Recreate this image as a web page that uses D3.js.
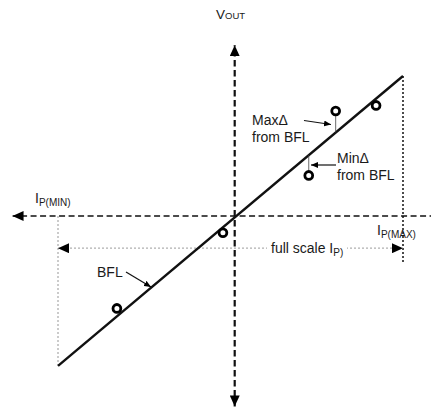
<!DOCTYPE html>
<html>
<head>
<meta charset="utf-8">
<script src="https://cdn.jsdelivr.net/npm/d3@7"></script>
<style>
  body { margin: 0; background: #fff; }
  svg text { font-family: "Liberation Sans", Arial, sans-serif; fill: #1a1a1a; }
</style>
</head>
<body>
<script>
// data (abstract units: I_P on x, V_OUT on y)
const ipMin = -1.05, ipMax = 1;
const bfl = [[-1.05, -1.07], [1, 1]];           // best fit line end points
const samples = [[-0.70, -0.66], [-0.07, -0.12], [0.44, 0.29], [0.60, 0.75], [0.84, 0.79]];
const axisX = [-1.32, 1.25];                    // horizontal axis extent
const axisY = [-1.36, 1.22];                    // vertical axis extent
const fullScaleY = -0.23;
const dropMax = -0.33;

const width = 431, height = 410;

const svg = d3.select("body").append("svg")
  .attr("width", width)
  .attr("height", height);

const x = d3.scaleLinear().domain([-1.05, 1]).range([58, 403]);
const y = d3.scaleLinear().domain([-1.36, 1.23]).range([406.4, 43.8]);

// arrowhead markers
const defs = svg.append("defs");
function marker(id, w, h) {
  defs.append("marker")
    .attr("id", id)
    .attr("viewBox", `0 0 ${w} ${h}`)
    .attr("refX", w).attr("refY", h / 2)
    .attr("markerWidth", w).attr("markerHeight", h)
    .attr("markerUnits", "userSpaceOnUse")
    .attr("orient", "auto-start-reverse")
    .append("path")
      .attr("d", `M0,0L${w},${h / 2}L0,${h}Z`)
      .attr("fill", "#000");
}
marker("big", 11, 10);
marker("small", 7, 6);

// dotted guides
svg.append("line")
  .attr("x1", x(ipMin)).attr("x2", x(ipMin))
  .attr("y1", y(0)).attr("y2", y(bfl[0][1]))
  .attr("stroke", "#b0b0b0").attr("stroke-width", 1.3).attr("stroke-dasharray", "2,2");

svg.append("line")
  .attr("x1", x(ipMax)).attr("x2", x(ipMax))
  .attr("y1", y(bfl[1][1])).attr("y2", y(dropMax))
  .attr("stroke", "#111").attr("stroke-width", 1.5).attr("stroke-dasharray", "2,2");

svg.append("line")
  .attr("x1", x(ipMin)).attr("x2", x(ipMax))
  .attr("y1", y(fullScaleY)).attr("y2", y(fullScaleY))
  .attr("stroke", "#b0b0b0").attr("stroke-width", 1.2).attr("stroke-dasharray", "2,2")
  .attr("marker-start", "url(#big)")
  .attr("marker-end", "url(#big)");

// axes
svg.append("line")
  .attr("x1", x(0)).attr("x2", x(0))
  .attr("y1", y(axisY[0])).attr("y2", y(axisY[1]))
  .attr("stroke", "#111").attr("stroke-width", 2.2).attr("stroke-dasharray", "6.5,3.5")
  .attr("marker-start", "url(#big)")
  .attr("marker-end", "url(#big)");

svg.append("line")
  .attr("x1", x(axisX[1])).attr("x2", x(axisX[0]))
  .attr("y1", y(0)).attr("y2", y(0))
  .attr("stroke", "#111").attr("stroke-width", 1.6).attr("stroke-dasharray", "6,3.5")
  .attr("marker-end", "url(#big)");

// best fit line
svg.append("path")
  .datum(bfl)
  .attr("d", d3.line().x(d => x(d[0])).y(d => y(d[1])))
  .attr("fill", "none")
  .attr("stroke", "#111")
  .attr("stroke-width", 2.4);

// deviation ticks for max / min
const bflAt = v => bfl[0][1] + (v - bfl[0][0]) * (bfl[1][1] - bfl[0][1]) / (bfl[1][0] - bfl[0][0]);
[samples[3], samples[2]].forEach(d => {
  const above = d[1] > bflAt(d[0]);
  svg.append("line")
    .attr("x1", x(d[0])).attr("x2", x(d[0]))
    .attr("y1", y(d[1]) + (above ? 5 : -5)).attr("y2", y(bflAt(d[0])))
    .attr("stroke", "#444").attr("stroke-width", 0.8);
});

// sample points
svg.selectAll("circle.pt")
  .data(samples)
  .join("circle")
    .attr("class", "pt")
    .attr("cx", d => x(d[0]))
    .attr("cy", d => y(d[1]))
    .attr("r", 3.9)
    .attr("fill", "#fff")
    .attr("stroke", "#000")
    .attr("stroke-width", 2.8);

// labels
const fs = 14;
function sublabel(px, py, main, sub, size, subSize, dy) {
  const t = svg.append("text").attr("x", px).attr("y", py).style("font-size", size + "px");
  t.append("tspan").text(main);
  t.append("tspan").attr("dy", dy).style("font-size", subSize + "px").text(sub);
  return t;
}

sublabel(216, 19, "V", "OUT", 13.5, 9.5, 0);
sublabel(35, 203, "I", "P(MIN)", 14, 10, 3);
sublabel(377, 235, "I", "P(MAX)", 14, 10, 3);

// full scale label with white backdrop over the dotted line
svg.append("rect")
  .attr("x", 267).attr("y", 240).attr("width", 80).attr("height", 16)
  .attr("fill", "#fff");
sublabel(271, 253, "full scale I", "P)", fs, 10, 3);

svg.append("text").attr("x", 252).attr("y", 125).style("font-size", fs + "px").text("Max\u0394");
svg.append("text").attr("x", 252).attr("y", 142).style("font-size", fs + "px").text("from BFL");
svg.append("text").attr("x", 337).attr("y", 163).style("font-size", fs + "px").text("Min\u0394");
svg.append("text").attr("x", 337).attr("y", 180).style("font-size", fs + "px").text("from BFL");
svg.append("text").attr("x", 97).attr("y", 277).style("font-size", fs + "px").text("BFL");

// pointer arrows
const pointers = [
  [[304, 120.5], [331, 124.5]],
  [[336, 165], [311, 165]],
  [[126, 272], [151, 287]]
];
pointers.forEach(p => {
  svg.append("line")
    .attr("x1", p[0][0]).attr("y1", p[0][1])
    .attr("x2", p[1][0]).attr("y2", p[1][1])
    .attr("stroke", "#111").attr("stroke-width", 1.2)
    .attr("marker-end", "url(#small)");
});
</script>
</body>
</html>
